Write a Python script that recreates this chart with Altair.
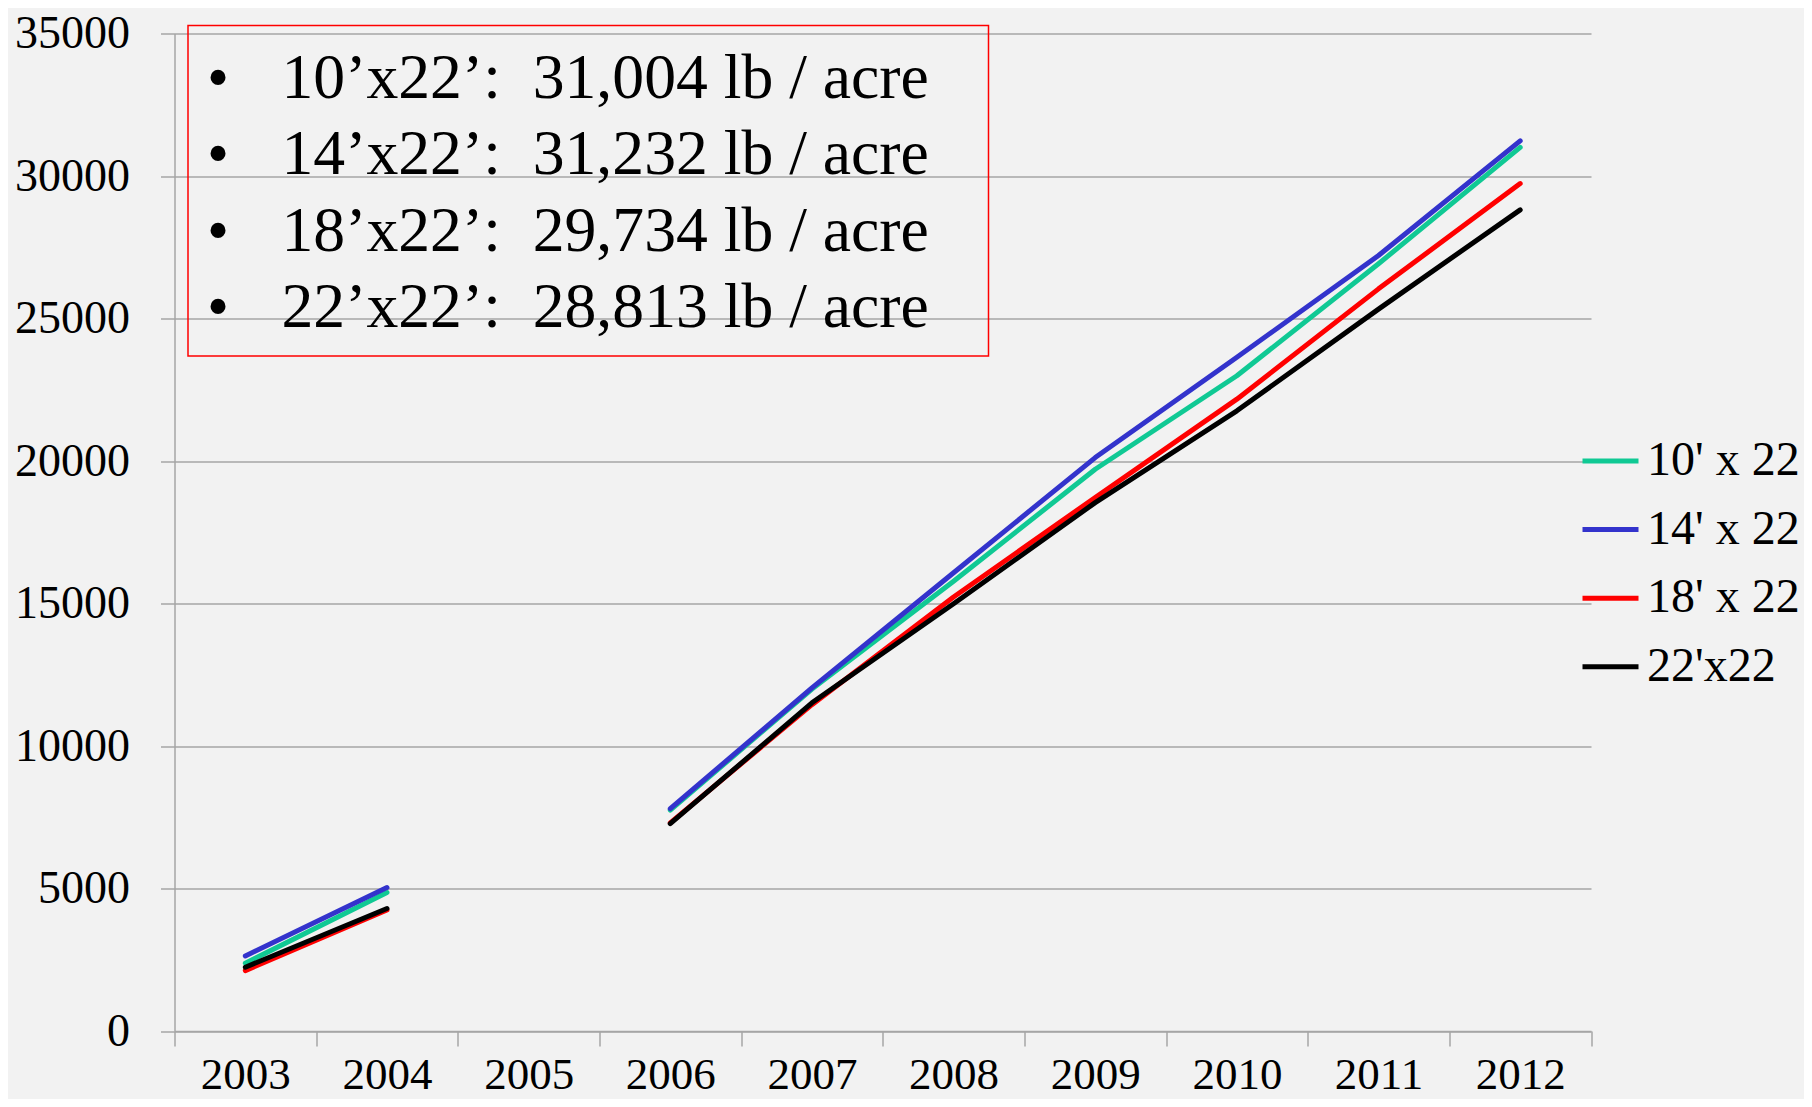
import altair as alt
import pandas as pd

years = ["2003", "2004", "2005", "2006", "2007", "2008", "2009", "2010", "2011", "2012"]
series_names = ["10' x 22", "14' x 22", "18' x 22", "22'x22"]
series_colors = ["#10c994", "#3333cc", "#ff0000", "#000000"]

v_10x22 = [2380, 4860, None, 7750, 12000, 15780, 19710, 22990, 26920, 31004]
v_14x22 = [2635, 5035, None, 7800, 12040, 16080, 20120, 23640, 27210, 31232]
v_18x22 = [2120, 4250, None, 7300, 11450, 15230, 18720, 22170, 26040, 29734]
v_22x22 = [2238, 4297, None, 7273, 11515, 14990, 18540, 21760, 25330, 28813]

y_ticks = [0, 5000, 10000, 15000, 20000, 25000, 30000, 35000]

ann_lines = [
    "10\u2019x22\u2019:\u00a0 31,004 lb / acre",
    "14\u2019x22\u2019:\u00a0 31,232 lb / acre",
    "18\u2019x22\u2019:\u00a0 29,734 lb / acre",
    "22\u2019x22\u2019:\u00a0 28,813 lb / acre",
]

rows = []
for name, vals in zip(series_names, [v_10x22, v_14x22, v_18x22, v_22x22]):
    for i, (yr, v) in enumerate(zip(years, vals)):
        if v is None:
            continue
        rows.append({"series": name, "year": yr, "value": v, "seg": 0 if int(yr) < 2005 else 1})
df = pd.DataFrame(rows)

ann_df = pd.DataFrame({"row": list(range(len(ann_lines))), "label": ann_lines, "bullet": ["\u2022"] * len(ann_lines)})

FONT = "Liberation Serif"
GRID = "#a6a6a6"

lines = alt.Chart(df).mark_line(strokeWidth=5, strokeCap="round", strokeJoin="round").encode(
    x=alt.X("year:O",
            scale=alt.Scale(type="band", domain=years, paddingInner=0, paddingOuter=0),
            bandPosition=0.5,
            axis=alt.Axis(title=None, labelAngle=0, tickBand="extent", labelFont=FONT, labelFontSize=45,
                          labelColor="black", tickSize=15, tickColor=GRID, tickWidth=1.5,
                          domainColor=GRID, domainWidth=1.5, labelPadding=6, grid=False)),
    y=alt.Y("value:Q",
            scale=alt.Scale(domain=[0, 35000], nice=False),
            axis=alt.Axis(title=None, values=y_ticks, format="d", labelFont=FONT, labelFontSize=46,
                          labelColor="black", tickSize=14, tickColor=GRID, tickWidth=1.5,
                          domainColor=GRID, domainWidth=1.5, labelPadding=31,
                          grid=True, gridColor=GRID, gridWidth=1.5)),
    color=alt.Color("series:N",
                    scale=alt.Scale(domain=series_names, range=series_colors),
                    legend=alt.Legend(orient="none", legendX=1405.5, legendY=397, title=None,
                                      symbolType="stroke", symbolSize=3136, symbolStrokeWidth=5,
                                      labelFont=FONT, labelFontSize=48, labelColor="black",
                                      labelOffset=6, rowPadding=13.6, labelLimit=400, padding=0)),
    detail="seg:N",
    order=alt.Order("year:O"),
)

row_scale = alt.Scale(domain=list(range(len(ann_lines))), range=[64.5, 293.5], padding=0)

box = alt.Chart(alt.Data(values=[{}])).mark_rect(fillOpacity=0, stroke="#ff0000", strokeWidth=1.5).encode(
    x=alt.value(13.5), x2=alt.value(814), y=alt.value(-8), y2=alt.value(322.5)
)

bullets = alt.Chart(ann_df).mark_text(align="center", baseline="alphabetic", font=FONT, fontSize=63,
                                      color="black").encode(
    x=alt.value(43.5),
    y=alt.Y("row:O", axis=None, scale=row_scale),
    text="bullet:N",
)

ann = alt.Chart(ann_df).mark_text(align="left", baseline="alphabetic", font=FONT, fontSize=63.7,
                                  color="black").encode(
    x=alt.value(107),
    y=alt.Y("row:O", axis=None, scale=row_scale),
    text="label:N",
)

chart = alt.layer(lines, box, bullets, ann).resolve_scale(y="independent").properties(
    width=1416.5,
    height=997.5,
    padding={"left": 166.5, "top": 25.5, "right": 213, "bottom": 68},
    autosize=alt.AutoSizeParams(type="none"),
    background="#f2f2f2",
).configure_view(strokeWidth=0)

chart.save("out.html", embed_options={"renderer": "svg", "actions": False})
